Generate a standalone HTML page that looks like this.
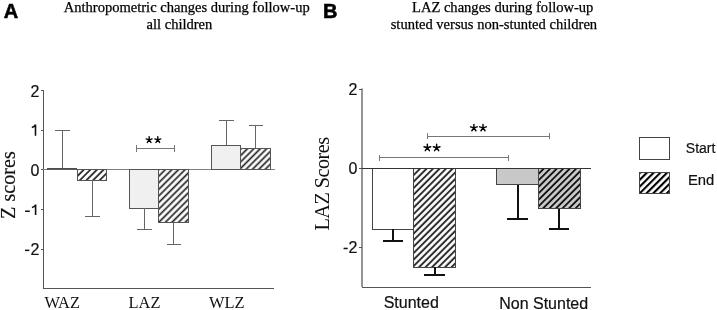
<!DOCTYPE html>
<html><head><meta charset="utf-8">
<style>
html,body{margin:0;padding:0;background:#fff;}
body{width:717px;height:310px;overflow:hidden;}
svg{display:block;will-change:transform;}
.serif{font-family:"Liberation Serif",serif;}
.sans{font-family:"Liberation Sans",sans-serif;}
</style></head><body>
<svg width="717" height="310" viewBox="0 0 717 310">
<defs>
<pattern id="pWAZ" patternUnits="userSpaceOnUse" width="4.667" height="10" patternTransform="rotate(45)"><rect x="0" y="0" width="4.667" height="10" fill="#fff"/><rect x="1.059" y="0" width="1.7" height="10" fill="#222"/></pattern>
<pattern id="pLAZ" patternUnits="userSpaceOnUse" width="4.667" height="10" patternTransform="rotate(45)"><rect x="0" y="0" width="4.667" height="10" fill="#fff"/><rect x="2.579" y="0" width="1.7" height="10" fill="#222"/></pattern>
<pattern id="pWLZ" patternUnits="userSpaceOnUse" width="4.525" height="10" patternTransform="rotate(45)"><rect x="0" y="0" width="4.525" height="10" fill="#fff"/><rect x="3.251" y="0" width="1.274" height="10" fill="#222"/><rect x="0" y="0" width="0.426" height="10" fill="#222"/></pattern>
<pattern id="pBS" patternUnits="userSpaceOnUse" width="4.596" height="10" patternTransform="rotate(45)"><rect x="0" y="0" width="4.596" height="10" fill="#fff"/><rect x="1.716" y="0" width="1.8" height="10" fill="#1a1a1a"/></pattern>
<pattern id="pBN" patternUnits="userSpaceOnUse" width="4.596" height="10" patternTransform="rotate(45)"><rect x="0" y="0" width="4.596" height="10" fill="#c8c8c8"/><rect x="1.858" y="0" width="1.8" height="10" fill="#111"/></pattern>
<pattern id="pL" patternUnits="userSpaceOnUse" width="4.773" height="10" patternTransform="rotate(45)"><rect x="0" y="0" width="4.773" height="10" fill="#fff"/><rect x="0.965" y="0" width="2.1" height="10" fill="#000"/></pattern>
</defs>

<!-- Panel labels -->
<text x="3.8" y="18.2" class="sans" font-weight="bold" font-size="20" fill="#000" stroke="#000" stroke-width="0.55">A</text>
<text x="322.9" y="18.2" class="sans" font-weight="bold" font-size="20" fill="#000" stroke="#000" stroke-width="0.55">B</text>

<!-- Titles -->
<g class="serif" font-size="14.55" fill="#000" stroke="#000" stroke-width="0.25">
<text x="63.7" y="12.1">Anthropometric changes during follow-up</text>
<text x="146.5" y="28.6">all children</text>
<text x="412" y="11.8">LAZ changes during follow-up</text>
<text x="390.7" y="28.6">stunted versus non-stunted children</text>
</g>

<!-- ===== Panel A ===== -->
<g stroke="#555" stroke-width="1" fill="none" shape-rendering="crispEdges">
<line x1="43.5" y1="90" x2="43.5" y2="288.5"/>
<line x1="43" y1="288.5" x2="274" y2="288.5"/>
<line x1="41" y1="90.5" x2="43.5" y2="90.5"/>
<line x1="41" y1="130.5" x2="43.5" y2="130.5"/>
<line x1="41" y1="169.5" x2="43.5" y2="169.5"/>
<line x1="41" y1="209.5" x2="43.5" y2="209.5"/>
<line x1="41" y1="249.5" x2="43.5" y2="249.5"/>
</g>
<g class="sans" font-size="16" fill="#111" stroke="#111" stroke-width="0.2" text-anchor="end">
<text x="39.5" y="96.9">2</text>
<text x="39.5" y="175.9">0</text>
<text x="39.5" y="254.8">2</text>
</g>
<g stroke="#111" stroke-width="1.6" fill="none">
<path d="M35.5 135.7V124.4M35.6 124.6C34.9 126.3 33.6 127.2 31.8 127.5"/>
<path d="M35.6 214.9V204.5M35.7 204.7C35 206.3 33.7 207.2 31.9 207.5"/>
</g>
<rect x="25.1" y="210.5" width="4.7" height="1.5" fill="#111"/>
<rect x="25" y="249.6" width="4.3" height="1.5" fill="#111"/>
<text class="serif" font-size="20.2" fill="#111" stroke="#111" stroke-width="0.15" transform="translate(14.6,219) rotate(-90)">Z scores</text>
<g class="serif" font-size="16.4" fill="#111">
<text x="44.4" y="307.6">WAZ</text>
<text x="128.6" y="307.6">LAZ</text>
<text x="209" y="307.6">WLZ</text>
</g>

<!-- bars A -->
<line x1="43" y1="169.5" x2="275" y2="169.5" stroke="#808080" stroke-width="1" shape-rendering="crispEdges"/>
<g stroke="#555" stroke-width="1" shape-rendering="crispEdges">
<rect x="77" y="169.5" width="29.5" height="10.5" fill="url(#pWAZ)"/>
<rect x="129.5" y="169.5" width="29" height="38.5" fill="#f0f0f0"/>
<rect x="158.5" y="169.5" width="30" height="53" fill="url(#pLAZ)"/>
<rect x="211.5" y="145" width="29" height="24.5" fill="#f0f0f0"/>
<rect x="240.5" y="148" width="29.5" height="21.5" fill="url(#pWLZ)"/>
</g>
<rect x="47" y="168.1" width="30" height="1.4" fill="#3a3a3a"/>
<rect x="47" y="168.1" width="1" height="1.9" fill="#555"/>
<rect x="76" y="168.1" width="1" height="1.9" fill="#555"/>
<!-- error bars A -->
<g stroke="#666" stroke-width="1" shape-rendering="crispEdges">
<line x1="62.5" y1="130.5" x2="62.5" y2="167.5"/><line x1="55" y1="130.5" x2="69.5" y2="130.5"/>
<line x1="92.5" y1="180" x2="92.5" y2="216.5"/><line x1="85" y1="216.5" x2="99.5" y2="216.5"/>
<line x1="144.5" y1="208" x2="144.5" y2="229.5"/><line x1="137" y1="229.5" x2="151.5" y2="229.5"/>
<line x1="173.5" y1="222.5" x2="173.5" y2="244.5"/><line x1="166.5" y1="244.5" x2="181" y2="244.5"/>
<line x1="226.5" y1="120.5" x2="226.5" y2="144.5"/><line x1="219" y1="120.5" x2="233.5" y2="120.5"/>
<line x1="255.5" y1="125.5" x2="255.5" y2="148"/><line x1="248.5" y1="125.5" x2="262.5" y2="125.5"/>
</g>
<!-- significance A -->
<g stroke="#777" stroke-width="1" shape-rendering="crispEdges">
<line x1="136.5" y1="148.5" x2="174.5" y2="148.5"/>
<line x1="136.5" y1="144.5" x2="136.5" y2="151.5"/>
<line x1="174.5" y1="144.5" x2="174.5" y2="151.5"/>
</g>
<g stroke="#000" stroke-width="1.4" stroke-linecap="round" fill="none"><path transform="translate(149.15,139.9)" d="M0 0L0.00 -3.10M0 0L2.95 -0.96M0 0L1.82 2.51M0 0L-1.82 2.51M0 0L-2.95 -0.96"/><path transform="translate(157.8,139.9)" d="M0 0L0.00 -3.10M0 0L2.95 -0.96M0 0L1.82 2.51M0 0L-1.82 2.51M0 0L-2.95 -0.96"/></g>

<!-- ===== Panel B ===== -->
<g stroke="#555" stroke-width="1" fill="none" shape-rendering="crispEdges">
<line x1="362" y1="88.5" x2="362" y2="287" stroke-width="1.25" shape-rendering="auto"/>
<line x1="361.5" y1="287" x2="591" y2="287"/>
<line x1="359" y1="89" x2="362" y2="89"/>
<line x1="359" y1="168" x2="362" y2="168"/>
<line x1="359" y1="247" x2="362" y2="247"/>
</g>
<g class="sans" font-size="16" fill="#111" stroke="#111" stroke-width="0.2" text-anchor="end">
<text x="357.3" y="95">2</text>
<text x="357.3" y="174">0</text>
<text x="357.3" y="253">-2</text>
</g>
<text class="serif" font-size="20.3" letter-spacing="-0.55" fill="#111" transform="translate(329.1,230.5) rotate(-90)">LAZ Scores</text>
<g class="sans" font-size="16" fill="#111" stroke="#111" stroke-width="0.2">
<text x="383.7" y="307.7">Stunted</text>
<text x="499.2" y="308.5">Non Stunted</text>
</g>

<!-- bars B -->
<g stroke="#444" stroke-width="1" shape-rendering="crispEdges">
<rect x="372.5" y="168" width="41" height="61.5" fill="#fff"/>
<rect x="413.5" y="168" width="42" height="99.5" fill="url(#pBS)"/>
<rect x="496.5" y="168" width="41.5" height="16" fill="#c8c8c8"/>
<rect x="538" y="168" width="42" height="40" fill="url(#pBN)"/>
</g>
<line x1="362" y1="168" x2="591" y2="168" stroke="#333" stroke-width="1" shape-rendering="crispEdges"/>
<!-- error bars B -->
<g stroke="#111" stroke-width="2" shape-rendering="crispEdges">
<line x1="393" y1="229" x2="393" y2="241"/><line x1="382.5" y1="241" x2="403" y2="241"/>
<line x1="434.5" y1="267" x2="434.5" y2="274.5"/><line x1="424" y1="274.5" x2="444.5" y2="274.5"/>
<line x1="517.5" y1="184.5" x2="517.5" y2="219"/><line x1="507" y1="219" x2="527.5" y2="219"/>
<line x1="559" y1="208.5" x2="559" y2="229"/><line x1="548.5" y1="229" x2="569" y2="229"/>
</g>
<!-- significance B -->
<g stroke="#777" stroke-width="1" shape-rendering="crispEdges">
<line x1="427.5" y1="136" x2="549.5" y2="136"/>
<line x1="427.5" y1="133" x2="427.5" y2="139"/>
<line x1="549.5" y1="133" x2="549.5" y2="139"/>
<line x1="379.5" y1="157.5" x2="508.5" y2="157.5"/>
<line x1="379.5" y1="154.5" x2="379.5" y2="160.5"/>
<line x1="508.5" y1="154.5" x2="508.5" y2="160.5"/>
</g>
<g stroke="#000" stroke-width="1.45" stroke-linecap="round" fill="none"><path transform="translate(473.9,127.9)" d="M0 0L0.00 -3.50M0 0L3.33 -1.08M0 0L2.06 2.83M0 0L-2.06 2.83M0 0L-3.33 -1.08"/><path transform="translate(483,127.9)" d="M0 0L0.00 -3.50M0 0L3.33 -1.08M0 0L2.06 2.83M0 0L-2.06 2.83M0 0L-3.33 -1.08"/><path transform="translate(427.35,147.8)" d="M0 0L0.00 -3.50M0 0L3.33 -1.08M0 0L2.06 2.83M0 0L-2.06 2.83M0 0L-3.33 -1.08"/><path transform="translate(436.65,147.8)" d="M0 0L0.00 -3.50M0 0L3.33 -1.08M0 0L2.06 2.83M0 0L-2.06 2.83M0 0L-3.33 -1.08"/></g>

<!-- legend -->
<rect x="639.5" y="137.5" width="30" height="22" fill="#fff" stroke="#444" stroke-width="1" shape-rendering="crispEdges"/>
<rect x="639.5" y="172.5" width="30" height="21" fill="url(#pL)" stroke="#444" stroke-width="1" shape-rendering="crispEdges"/>
<g class="sans" font-size="14" fill="#111" stroke="#111" stroke-width="0.2">
<text x="685.8" y="152.8">Start</text>
<text x="687.9" y="184.9" font-size="14.8">End</text>
</g>
</svg>
</body></html>
